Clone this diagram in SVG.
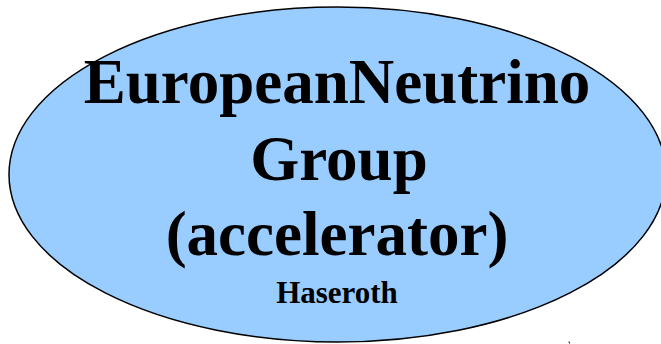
<svg xmlns="http://www.w3.org/2000/svg" width="661" height="344" viewBox="0 0 661 344">
  <style>
    .node { fill: #99CCFF; stroke: #000000; stroke-width: 1.5; }
    .big { font-family: "Liberation Serif", "Times New Roman", serif; font-weight: bold; font-size: 63px; fill: #000000; text-anchor: middle; }
    .small { font-family: "Liberation Serif", "Times New Roman", serif; font-weight: bold; font-size: 31px; fill: #000000; text-anchor: middle; }
  </style>
  <rect x="0" y="0" width="661" height="344" fill="#FFFFFF"/>
  <g id="node-european-neutrino-group">
    <ellipse class="node" cx="337.6" cy="174.5" rx="328.6" ry="167.5"/>
    <text class="big" x="337" y="103">EuropeanNeutrino</text>
    <text class="big" x="339" y="180">Group</text>
    <text class="big" x="337" y="255">(accelerator)</text>
    <text class="small" x="337" y="302.5">Haseroth</text>
  </g>
  <g id="connectors"></g>
  <path d="M569,341.5 L569.6,343.5" stroke="#000000" stroke-width="1" fill="none"/>
</svg>
